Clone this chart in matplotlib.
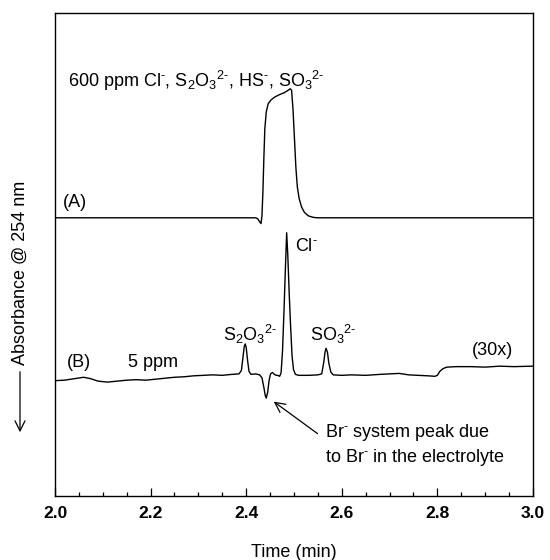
import matplotlib
matplotlib.use("Agg")
import matplotlib.pyplot as plt
from matplotlib.ticker import MultipleLocator

plt.rcParams['font.family'] = ['Liberation Sans', 'DejaVu Sans']
plt.rcParams['mathtext.default'] = 'regular'

# Trace (A): 600 ppm sample (time in min, absorbance a.u.)
time_a = [2.000, 2.100, 2.200, 2.300, 2.400, 2.420, 2.424, 2.428, 2.431, 2.433, 2.435,
          2.437, 2.439, 2.442, 2.446, 2.452, 2.460, 2.470, 2.480, 2.488, 2.492,
          2.495, 2.498, 2.501, 2.504, 2.507, 2.511, 2.516, 2.522, 2.530, 2.540,
          2.548, 2.600, 2.700, 2.800, 2.900, 3.000]
abs_a = [57.6, 57.6, 57.6, 57.6, 57.6, 57.6, 57.4, 56.8, 56.4, 58.0, 63.0,
         70.0, 76.0, 79.5, 81.2, 82.0, 82.6, 83.1, 83.5, 84.0, 84.3,
         84.0, 80.0, 74.0, 68.0, 64.0, 61.5, 59.8, 58.7, 58.0, 57.7,
         57.6, 57.6, 57.6, 57.6, 57.6, 57.6]

# Trace (B): 5 ppm sample (30x)
time_b = [2.000, 2.020, 2.040, 2.060, 2.075, 2.090, 2.110, 2.130, 2.150, 2.170,
          2.190, 2.210, 2.230, 2.250, 2.270, 2.290, 2.310, 2.330, 2.350, 2.370,
          2.385, 2.390, 2.393, 2.396, 2.398, 2.400, 2.403, 2.406, 2.410, 2.420,
          2.428, 2.433, 2.437, 2.440, 2.442, 2.445, 2.448, 2.451, 2.455, 2.459,
          2.463, 2.466, 2.470, 2.473, 2.476, 2.479, 2.482, 2.4847, 2.487, 2.490,
          2.493, 2.496, 2.499, 2.503, 2.510, 2.530, 2.550, 2.558, 2.562, 2.565,
          2.567, 2.570, 2.573, 2.577, 2.582, 2.600, 2.620, 2.650, 2.680, 2.700,
          2.720, 2.740, 2.760, 2.780, 2.795, 2.800, 2.805, 2.812, 2.820, 2.840,
          2.870, 2.900, 2.930, 2.960, 3.000]
abs_b = [23.9, 24.0, 24.3, 24.6, 24.3, 23.8, 23.6, 23.8, 24.0, 24.1,
         24.0, 24.2, 24.4, 24.6, 24.7, 24.9, 25.0, 25.1, 25.0, 25.2,
         25.3, 26.0, 28.5, 31.0, 31.5, 30.8, 28.0, 25.8, 25.2, 25.3,
         25.1, 24.5, 22.5, 20.8, 20.3, 21.5, 24.0, 25.3, 25.6, 25.2,
         25.0, 25.0, 24.8, 25.5, 30.0, 38.0, 47.0, 54.5, 50.0, 42.0,
         35.0, 29.0, 26.2, 25.2, 25.0, 25.0, 25.1, 25.3, 27.5, 29.8,
         30.6, 29.8, 27.5, 25.7, 25.1, 25.0, 25.1, 25.0, 25.2, 25.3,
         25.4, 25.1, 25.0, 24.9, 24.8, 25.0, 25.8, 26.4, 26.7, 26.8,
         26.8, 26.7, 26.9, 26.8, 26.9]

xticks = [2.0, 2.2, 2.4, 2.6, 2.8, 3.0]
xticklabels = ["2.0", "2.2", "2.4", "2.6", "2.8", "3.0"]

fig = plt.figure(figsize=(5.5, 5.6), dpi=100)
ax = fig.add_axes([0.1, 0.114, 0.869, 0.863])

ax.plot(time_a, abs_a, color='black', lw=1.0)
ax.plot(time_b, abs_b, color='black', lw=1.0)

ax.set_xlim(2.0, 3.0)
ax.set_ylim(0, 100)
ax.set_yticks([])
ax.set_xticks(xticks)
ax.set_xticklabels(xticklabels, fontsize=12.5, fontweight='bold')
ax.xaxis.set_minor_locator(MultipleLocator(0.05))
ax.tick_params(axis='x', which='major', direction='in', length=6, width=0.9, pad=7)
ax.tick_params(axis='x', which='minor', direction='in', length=3, width=0.9)
for s in ax.spines.values():
    s.set_linewidth(1.0)

ax.set_xlabel("Time (min)", fontsize=13, labelpad=17)

fs = 13
H = "\u2010"
ax.text(2.027, 84.7, f"600 ppm Cl$^{{{H}}}$, S$_2$O$_3$$^{{2{H}}}$, HS$^{{{H}}}$, SO$_3$$^{{2{H}}}$",
        fontsize=fs, va='baseline')
ax.text(2.017, 59.9, "(A)", fontsize=fs, va='baseline')
ax.text(2.025, 26.8, "(B)", fontsize=fs, va='baseline')
ax.text(2.153, 26.8, "5 ppm", fontsize=fs, va='baseline')
ax.text(2.872, 29.2, "(30x)", fontsize=fs, va='baseline')
ax.text(2.351, 32.2, f"S$_2$O$_3$$^{{2{H}}}$", fontsize=fs, va='baseline')
ax.text(2.502, 50.8, f"Cl$^{{{H}}}$", fontsize=fs, va='baseline')
ax.text(2.533, 32.2, f"SO$_3$$^{{2{H}}}$", fontsize=fs, va='baseline')
ax.text(2.565, 12.3, f"Br$^{{{H}}}$ system peak due", fontsize=fs, va='baseline')
ax.text(2.565, 7.1, f"to Br$^{{{H}}}$ in the electrolyte", fontsize=fs, va='baseline')
ax.annotate("", xy=(2.453, 19.9), xytext=(2.554, 12.6),
            arrowprops=dict(arrowstyle='->', lw=0.9, color='black', mutation_scale=18))

# y-axis label with downward arrow
fig.text(20 / 550, 1 - 273 / 560, "Absorbance @ 254 nm", rotation=90,
         fontsize=13, ha='center', va='center')
ax.annotate("", xy=(20 / 550, 1 - 435 / 560), xytext=(20 / 550, 1 - 369 / 560),
            xycoords='figure fraction', textcoords='figure fraction',
            arrowprops=dict(arrowstyle='->', lw=0.9, color='black', mutation_scale=18),
            annotation_clip=False)

fig.savefig("out.png", dpi=100)
